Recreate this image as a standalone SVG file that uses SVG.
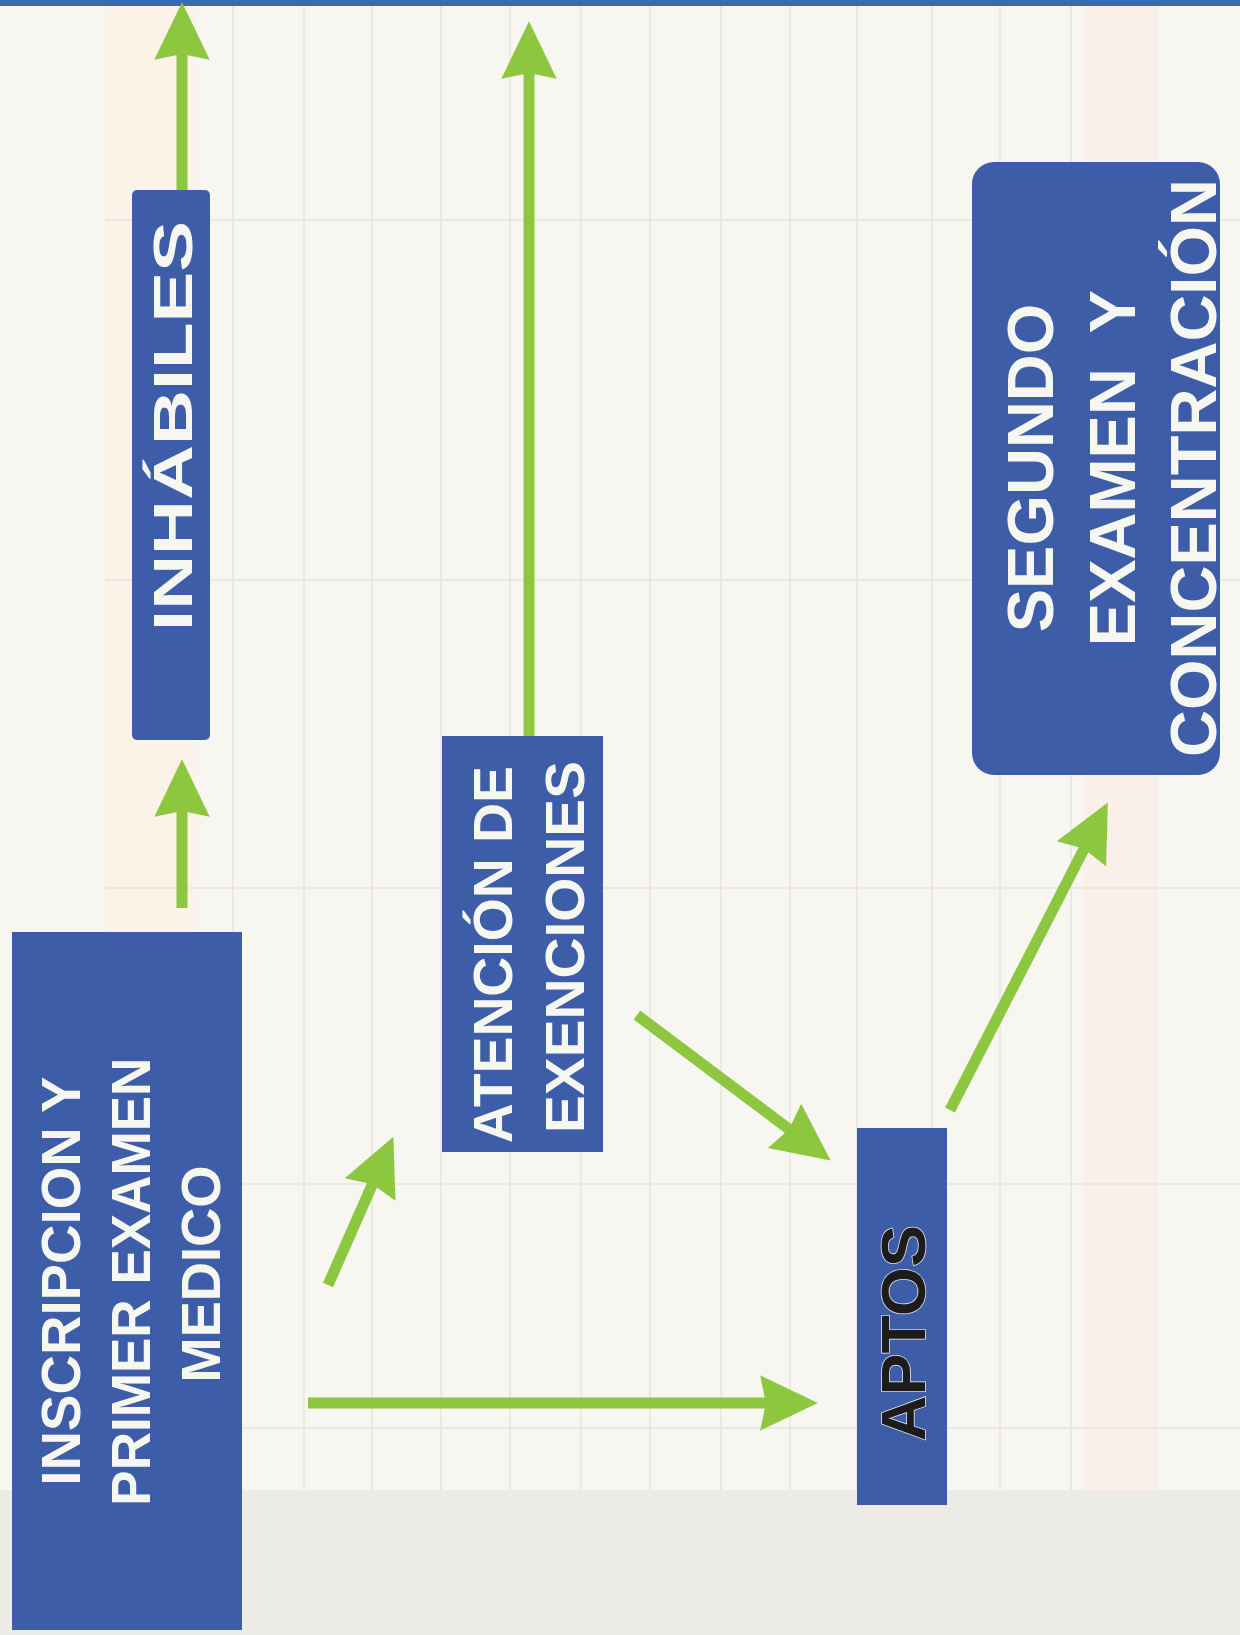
<svg xmlns="http://www.w3.org/2000/svg" width="1240" height="1635" viewBox="0 0 1240 1635">
  <defs>
    <style>
      .box { fill: #3e5da8; }
      .lbl { font-family: "Liberation Sans", Arial, sans-serif; font-weight: bold; fill: #f7f7f2; text-anchor: middle; }
      .dark { fill: #1c1c1c; stroke: #e8e8e8; stroke-width: 1.5; paint-order: stroke; }
      .arrow { stroke: #8dc63f; stroke-width: 11; fill: none; marker-end: url(#head); }
      .grid { stroke: #e7e5dd; stroke-width: 1.5; }
    </style>
    <marker id="head" markerUnits="userSpaceOnUse" markerWidth="60" markerHeight="60" viewBox="0 -25 52 50" refX="12" refY="0" orient="auto">
      <path d="M0,-24 L50,0 L0,24 L5,0 z" fill="#8dc63f"/>
    </marker>
  </defs>

  <!-- background (faded table) -->
  <rect x="0" y="0" width="1240" height="1635" fill="#f7f6f1"/>
  <g id="background">
    <rect x="105" y="0" width="90" height="1490" fill="#fbf1e6" opacity="0.8"/>
    <rect x="1083" y="0" width="75" height="1635" fill="#fbeee8" opacity="0.8"/>
    <rect x="0" y="1490" width="1240" height="145" fill="#ecebe6"/>
    <line class="grid" x1="233" y1="0" x2="233" y2="1490"/>
    <line class="grid" x1="304" y1="0" x2="304" y2="1490"/>
    <line class="grid" x1="372" y1="0" x2="372" y2="1490"/>
    <line class="grid" x1="441" y1="0" x2="441" y2="1490"/>
    <line class="grid" x1="510" y1="0" x2="510" y2="1490"/>
    <line class="grid" x1="581" y1="0" x2="581" y2="1490"/>
    <line class="grid" x1="650" y1="0" x2="650" y2="1490"/>
    <line class="grid" x1="721" y1="0" x2="721" y2="1490"/>
    <line class="grid" x1="790" y1="0" x2="790" y2="1490"/>
    <line class="grid" x1="857" y1="0" x2="857" y2="1490"/>
    <line class="grid" x1="932" y1="0" x2="932" y2="1490"/>
    <line class="grid" x1="1000" y1="0" x2="1000" y2="1490"/>
    <line class="grid" x1="1071" y1="0" x2="1071" y2="1490"/>
    <line class="grid" x1="105" y1="220" x2="1240" y2="220"/>
    <line class="grid" x1="105" y1="580" x2="1240" y2="580"/>
    <line class="grid" x1="105" y1="888" x2="1240" y2="888"/>
    <line class="grid" x1="105" y1="1184" x2="1240" y2="1184"/>
    <line class="grid" x1="105" y1="1428" x2="1240" y2="1428"/>
  </g>

  <rect x="0" y="0" width="1240" height="6" fill="#3d68b8"/>

  <g id="connectors">
    <line class="arrow" x1="182" y1="908" x2="182" y2="803"/>
    <line class="arrow" x1="182" y1="190" x2="182" y2="46"/>
    <line class="arrow" x1="529" y1="736" x2="529" y2="65"/>
    <line class="arrow" x1="308" y1="1403" x2="774" y2="1403"/>
    <line class="arrow" x1="328" y1="1285" x2="375.7" y2="1176.8"/>
    <line class="arrow" x1="637" y1="1015" x2="795.6" y2="1134.2"/>
    <line class="arrow" x1="950" y1="1110" x2="1087.8" y2="841.6"/>
  </g>

  <g id="inscripcion">
    <rect class="box" x="12" y="932" width="230" height="698"/>
    <text class="lbl" font-size="55" transform="translate(0,1274) rotate(-90)">
      <tspan x="0" y="80" textLength="408" lengthAdjust="spacingAndGlyphs">INSCRIPCION Y</tspan>
      <tspan x="0" y="150" textLength="448" lengthAdjust="spacingAndGlyphs">PRIMER EXAMEN</tspan>
      <tspan x="0" y="220" textLength="217" lengthAdjust="spacingAndGlyphs">MEDICO</tspan>
    </text>
  </g>

  <g id="inhabiles">
    <rect class="box" x="132" y="190" width="78" height="550" rx="5"/>
    <text class="lbl" font-size="56" transform="translate(0,426) rotate(-90)">
      <tspan x="0" y="192" textLength="410" lengthAdjust="spacingAndGlyphs">INHÁBILES</tspan>
    </text>
  </g>

  <g id="atencion">
    <rect class="box" x="442" y="736" width="161" height="416"/>
    <text class="lbl" font-size="55" transform="translate(0,947) rotate(-90)">
      <tspan x="0" y="512" textLength="377" lengthAdjust="spacingAndGlyphs">ATENCIÓN DE</tspan>
      <tspan x="0" y="584" textLength="372" lengthAdjust="spacingAndGlyphs">EXENCIONES</tspan>
    </text>
  </g>

  <g id="aptos">
    <rect class="box" x="857" y="1128" width="90" height="377"/>
    <text class="lbl dark" font-size="63" transform="translate(0,1333) rotate(-90)">
      <tspan x="0" y="925">APTOS</tspan>
    </text>
  </g>

  <g id="segundo">
    <rect class="box" x="972" y="162" width="248" height="613" rx="22"/>
    <text class="lbl" font-size="65" transform="translate(0,468) rotate(-90)" xml:space="preserve"><tspan x="0" y="1053">SEGUNDO</tspan><tspan x="0" y="1135">EXAMEN  Y</tspan><tspan x="0" y="1216">CONCENTRACIÓN</tspan></text>
  </g>
</svg>
